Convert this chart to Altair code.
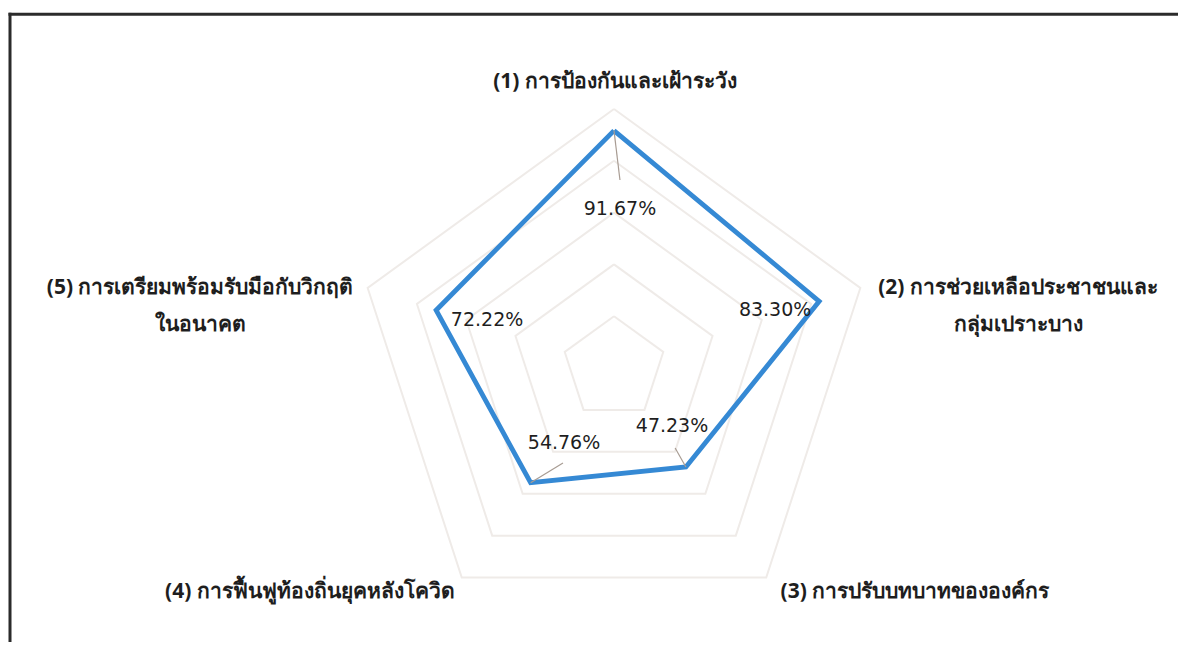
import altair as alt
import pandas as pd

# ---------------- data ----------------
categories = [
    "(1) การป้องกันและเฝ้าระวัง",
    "(2) การช่วยเหลือประชาชนและ\nกลุ่มเปราะบาง",
    "(3) การปรับบทบาทขององค์กร",
    "(4) การฟื้นฟูท้องถิ่นยุคหลังโควิด",
    "(5) การเตรียมพร้อมรับมือกับวิกฤติ\nในอนาคต",
]
values = [91.67, 83.30, 47.23, 54.76, 72.22]
value_labels = ["91.67%", "83.30%", "47.23%", "54.76%", "72.22%"]
grid_levels = [20, 40, 60, 80, 100]

# ---------------- layout (not data) ----------------
W, H = 1170, 634          # plot area in px
CX, CY = 606, 360         # centre of the radar inside the plot area (px)
PX = 2.59                 # pixels per percentage point
# label anchor positions, in the chart's own (percentage) units
cat_label_pos = [(0.4, 110.4), (156.0, 30.7), (116.2, -86.5), (-117.4, -86.5), (-159.8, 30.7)]
value_label_pos = [(2.3, 61.4), (62.2, 22.4), (22.4, -22.4), (-19.3, -29.0), (-49.0, 18.5)]
leader_end = [(2.3, 72.6), None, (23.6, -30.9), (-19.7, -36.7), None]

n = len(categories)
ang = [90 - 360 / n * k for k in range(n)]

xs = alt.Scale(domain=[-CX / PX, (W - CX) / PX], nice=False, zero=False)
ys = alt.Scale(domain=[-(H - CY) / PX, CY / PX], nice=False, zero=False)

calc_x = "datum.r * cos(datum.ang * PI / 180)"
calc_y = "datum.r * sin(datum.ang * PI / 180)"

# grid rings
ring_rows = []
for lv in grid_levels:
    for k in range(n + 1):
        ring_rows.append({"level": lv, "k": k, "r": lv, "ang": ang[k % n]})
rings = (
    alt.Chart(pd.DataFrame(ring_rows))
    .transform_calculate(x=calc_x, y=calc_y)
    .mark_line(color="#efebe8", strokeWidth=2)
    .encode(
        x=alt.X("x:Q", scale=xs, axis=None),
        y=alt.Y("y:Q", scale=ys, axis=None),
        detail="level:N",
        order="k:Q",
    )
)

# series polygon
ser_rows = [{"k": k, "r": values[k % n], "ang": ang[k % n]} for k in range(n + 1)]
series = (
    alt.Chart(pd.DataFrame(ser_rows))
    .transform_calculate(x=calc_x, y=calc_y)
    .mark_line(color="#3589d4", strokeWidth=4.8, strokeJoin="miter")
    .encode(
        x=alt.X("x:Q", scale=xs, axis=None),
        y=alt.Y("y:Q", scale=ys, axis=None),
        order="k:Q",
    )
)

# leader lines from points to their value labels
lead_rows = [
    {"r": values[k], "ang": ang[k], "ex": leader_end[k][0], "ey": leader_end[k][1]}
    for k in range(n) if leader_end[k] is not None
]
leaders = (
    alt.Chart(pd.DataFrame(lead_rows))
    .transform_calculate(x=calc_x, y=calc_y)
    .mark_rule(color="#a89c93", strokeWidth=1.2)
    .encode(
        x=alt.X("x:Q", scale=xs, axis=None),
        y=alt.Y("y:Q", scale=ys, axis=None),
        x2="ex:Q",
        y2="ey:Q",
    )
)

# value labels
vl_df = pd.DataFrame({
    "lbl": value_labels,
    "x": [p[0] for p in value_label_pos],
    "y": [p[1] for p in value_label_pos],
})
vlabels = (
    alt.Chart(vl_df)
    .mark_text(font="DejaVu Sans", fontSize=19, color="#1e1e1e", align="center", baseline="middle")
    .encode(
        x=alt.X("x:Q", scale=xs, axis=None),
        y=alt.Y("y:Q", scale=ys, axis=None),
        text="lbl:N",
    )
)

# category labels
cl_df = pd.DataFrame({
    "cat": categories,
    "x": [p[0] for p in cat_label_pos],
    "y": [p[1] for p in cat_label_pos],
})
clabels = (
    alt.Chart(cl_df)
    .mark_text(font="Noto Sans", fontSize=21, fontWeight="bold", color="#1e1e1e",
               align="center", baseline="middle", lineBreak="\n", lineHeight=37)
    .encode(
        x=alt.X("x:Q", scale=xs, axis=None),
        y=alt.Y("y:Q", scale=ys, axis=None),
        text="cat:N",
    )
)

# page frame (decoration)
frame_left = alt.Chart(pd.DataFrame({"a": [0]})).mark_rule(color="#2b2b2b", strokeWidth=3).encode(
    x=alt.value(2), y=alt.value(4.8), y2=alt.value(H + 40)
)
frame_top = alt.Chart(pd.DataFrame({"a": [0]})).mark_rule(color="#2b2b2b", strokeWidth=3).encode(
    x=alt.value(0.5), x2=alt.value(W + 40), y=alt.value(6.3)
)

chart = (
    alt.layer(rings, series, leaders, vlabels, clabels, frame_left, frame_top)
    .properties(width=W, height=H, padding=0, autosize=alt.AutoSizeParams(type="none"),
                background="white")
    .configure_view(stroke=None)
)

chart.save("out.html", embed_options={"renderer": "svg", "actions": False})
